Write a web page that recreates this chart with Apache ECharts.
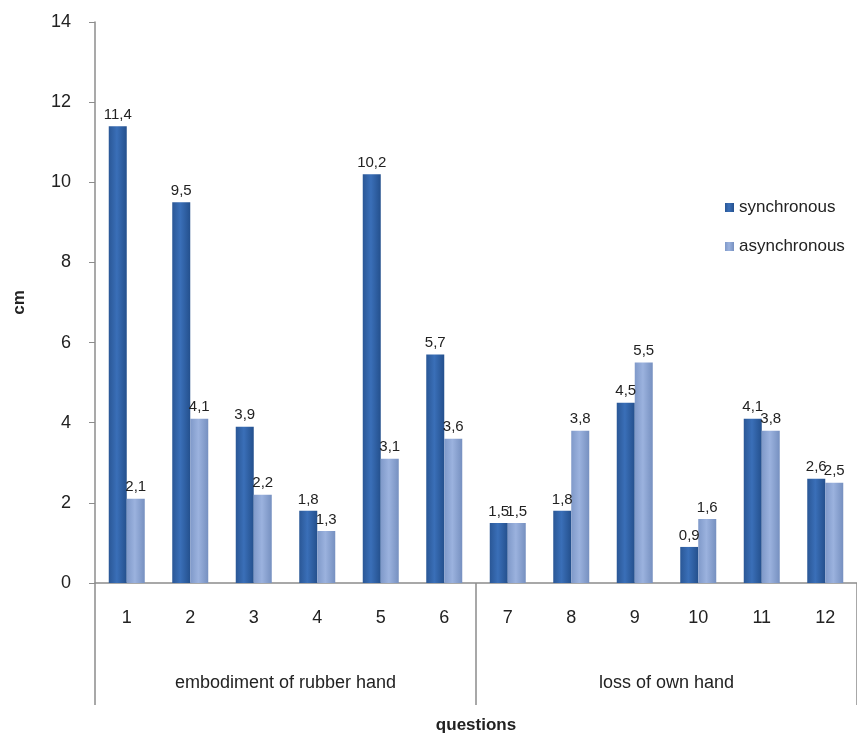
<!DOCTYPE html>
<html>
<head>
<meta charset="utf-8">
<script src="https://cdn.jsdelivr.net/npm/echarts@6/dist/echarts.min.js"></script>
<style>
  html, body { margin: 0; padding: 0; background: #fff; }
  #chart { width: 857px; height: 735px; }
</style>
</head>
<body>
<div id="chart"></div>
<script>
var questions = ['1', '2', '3', '4', '5', '6', '7', '8', '9', '10', '11', '12'];
var groups = ['embodiment of rubber hand', 'loss of own hand'];
var synchronous = [11.4, 9.5, 3.9, 1.8, 10.2, 5.7, 1.5, 1.8, 4.5, 0.9, 4.1, 2.6];
var asynchronous = [2.1, 4.1, 2.2, 1.3, 3.1, 3.6, 1.5, 3.8, 5.5, 1.6, 3.8, 2.5];

var font = '"Liberation Sans", Arial, sans-serif';

function grad(c1, c2, c3) {
  return new echarts.graphic.LinearGradient(0, 0, 1, 0, [
    { offset: 0, color: c1 },
    { offset: 0.45, color: c2 },
    { offset: 1, color: c3 }
  ]);
}

var syncColor = grad('#2a5796', '#3a6fb8', '#24508d');
var asyncColor = grad('#7f99c9', '#9bb2de', '#7690c0');

var valueLabel = {
  show: true,
  position: 'top',
  distance: 4,
  fontFamily: font,
  fontSize: 15,
  color: '#222',
  formatter: function (p) { return String(p.value).replace('.', ','); }
};

var chart = echarts.init(document.getElementById('chart'));
chart.setOption({
  backgroundColor: '#fff',
  animation: false,
  textStyle: { fontFamily: font },
  grid: { left: 95, right: 0, top: 22, bottom: 152, containLabel: false, outerBoundsMode: 'none' },
  legend: {
    orient: 'vertical',
    left: 720,
    top: 194,
    itemWidth: 9,
    itemHeight: 9,
    itemGap: 22,
    icon: 'rect',
    textStyle: { fontFamily: font, fontSize: 17, color: '#222' },
    data: ['synchronous', 'asynchronous']
  },
  xAxis: [{
    type: 'category',
    data: questions,
    axisLine: { lineStyle: { color: '#8c8c8c', width: 1.5 } },
    axisTick: { show: false },
    axisLabel: { fontFamily: font, fontSize: 18, color: '#222', margin: 26 }
  }, {
    type: 'category',
    data: groups,
    position: 'bottom',
    axisLine: { show: false },
    axisTick: { show: true, length: 122, lineStyle: { color: '#8c8c8c', width: 1.5 } },
    axisLabel: { fontFamily: font, fontSize: 18, color: '#222', margin: 91 },
    name: 'questions',
    nameLocation: 'middle',
    nameGap: 134,
    nameTextStyle: { fontFamily: font, fontSize: 17, fontWeight: 'bold', color: '#222' }
  }],
  yAxis: {
    type: 'value',
    min: 0,
    max: 14,
    interval: 2,
    name: 'cm',
    nameLocation: 'middle',
    nameGap: 67,
    nameTextStyle: { fontFamily: font, fontSize: 17, fontWeight: 'bold', color: '#222' },
    axisLine: { show: true, lineStyle: { color: '#8c8c8c', width: 1.5 } },
    axisTick: { show: true, length: 6, lineStyle: { color: '#8c8c8c' } },
    axisLabel: { fontFamily: font, fontSize: 18, color: '#222', margin: 24 },
    splitLine: { show: false }
  },
  series: [{
    name: 'synchronous',
    type: 'bar',
    data: synchronous,
    barWidth: 18,
    barGap: '0%',
    itemStyle: { color: syncColor },
    label: valueLabel
  }, {
    name: 'asynchronous',
    type: 'bar',
    data: asynchronous,
    barWidth: 18,
    barGap: '0%',
    itemStyle: { color: asyncColor },
    label: valueLabel
  }]
});
</script>
</body>
</html>
